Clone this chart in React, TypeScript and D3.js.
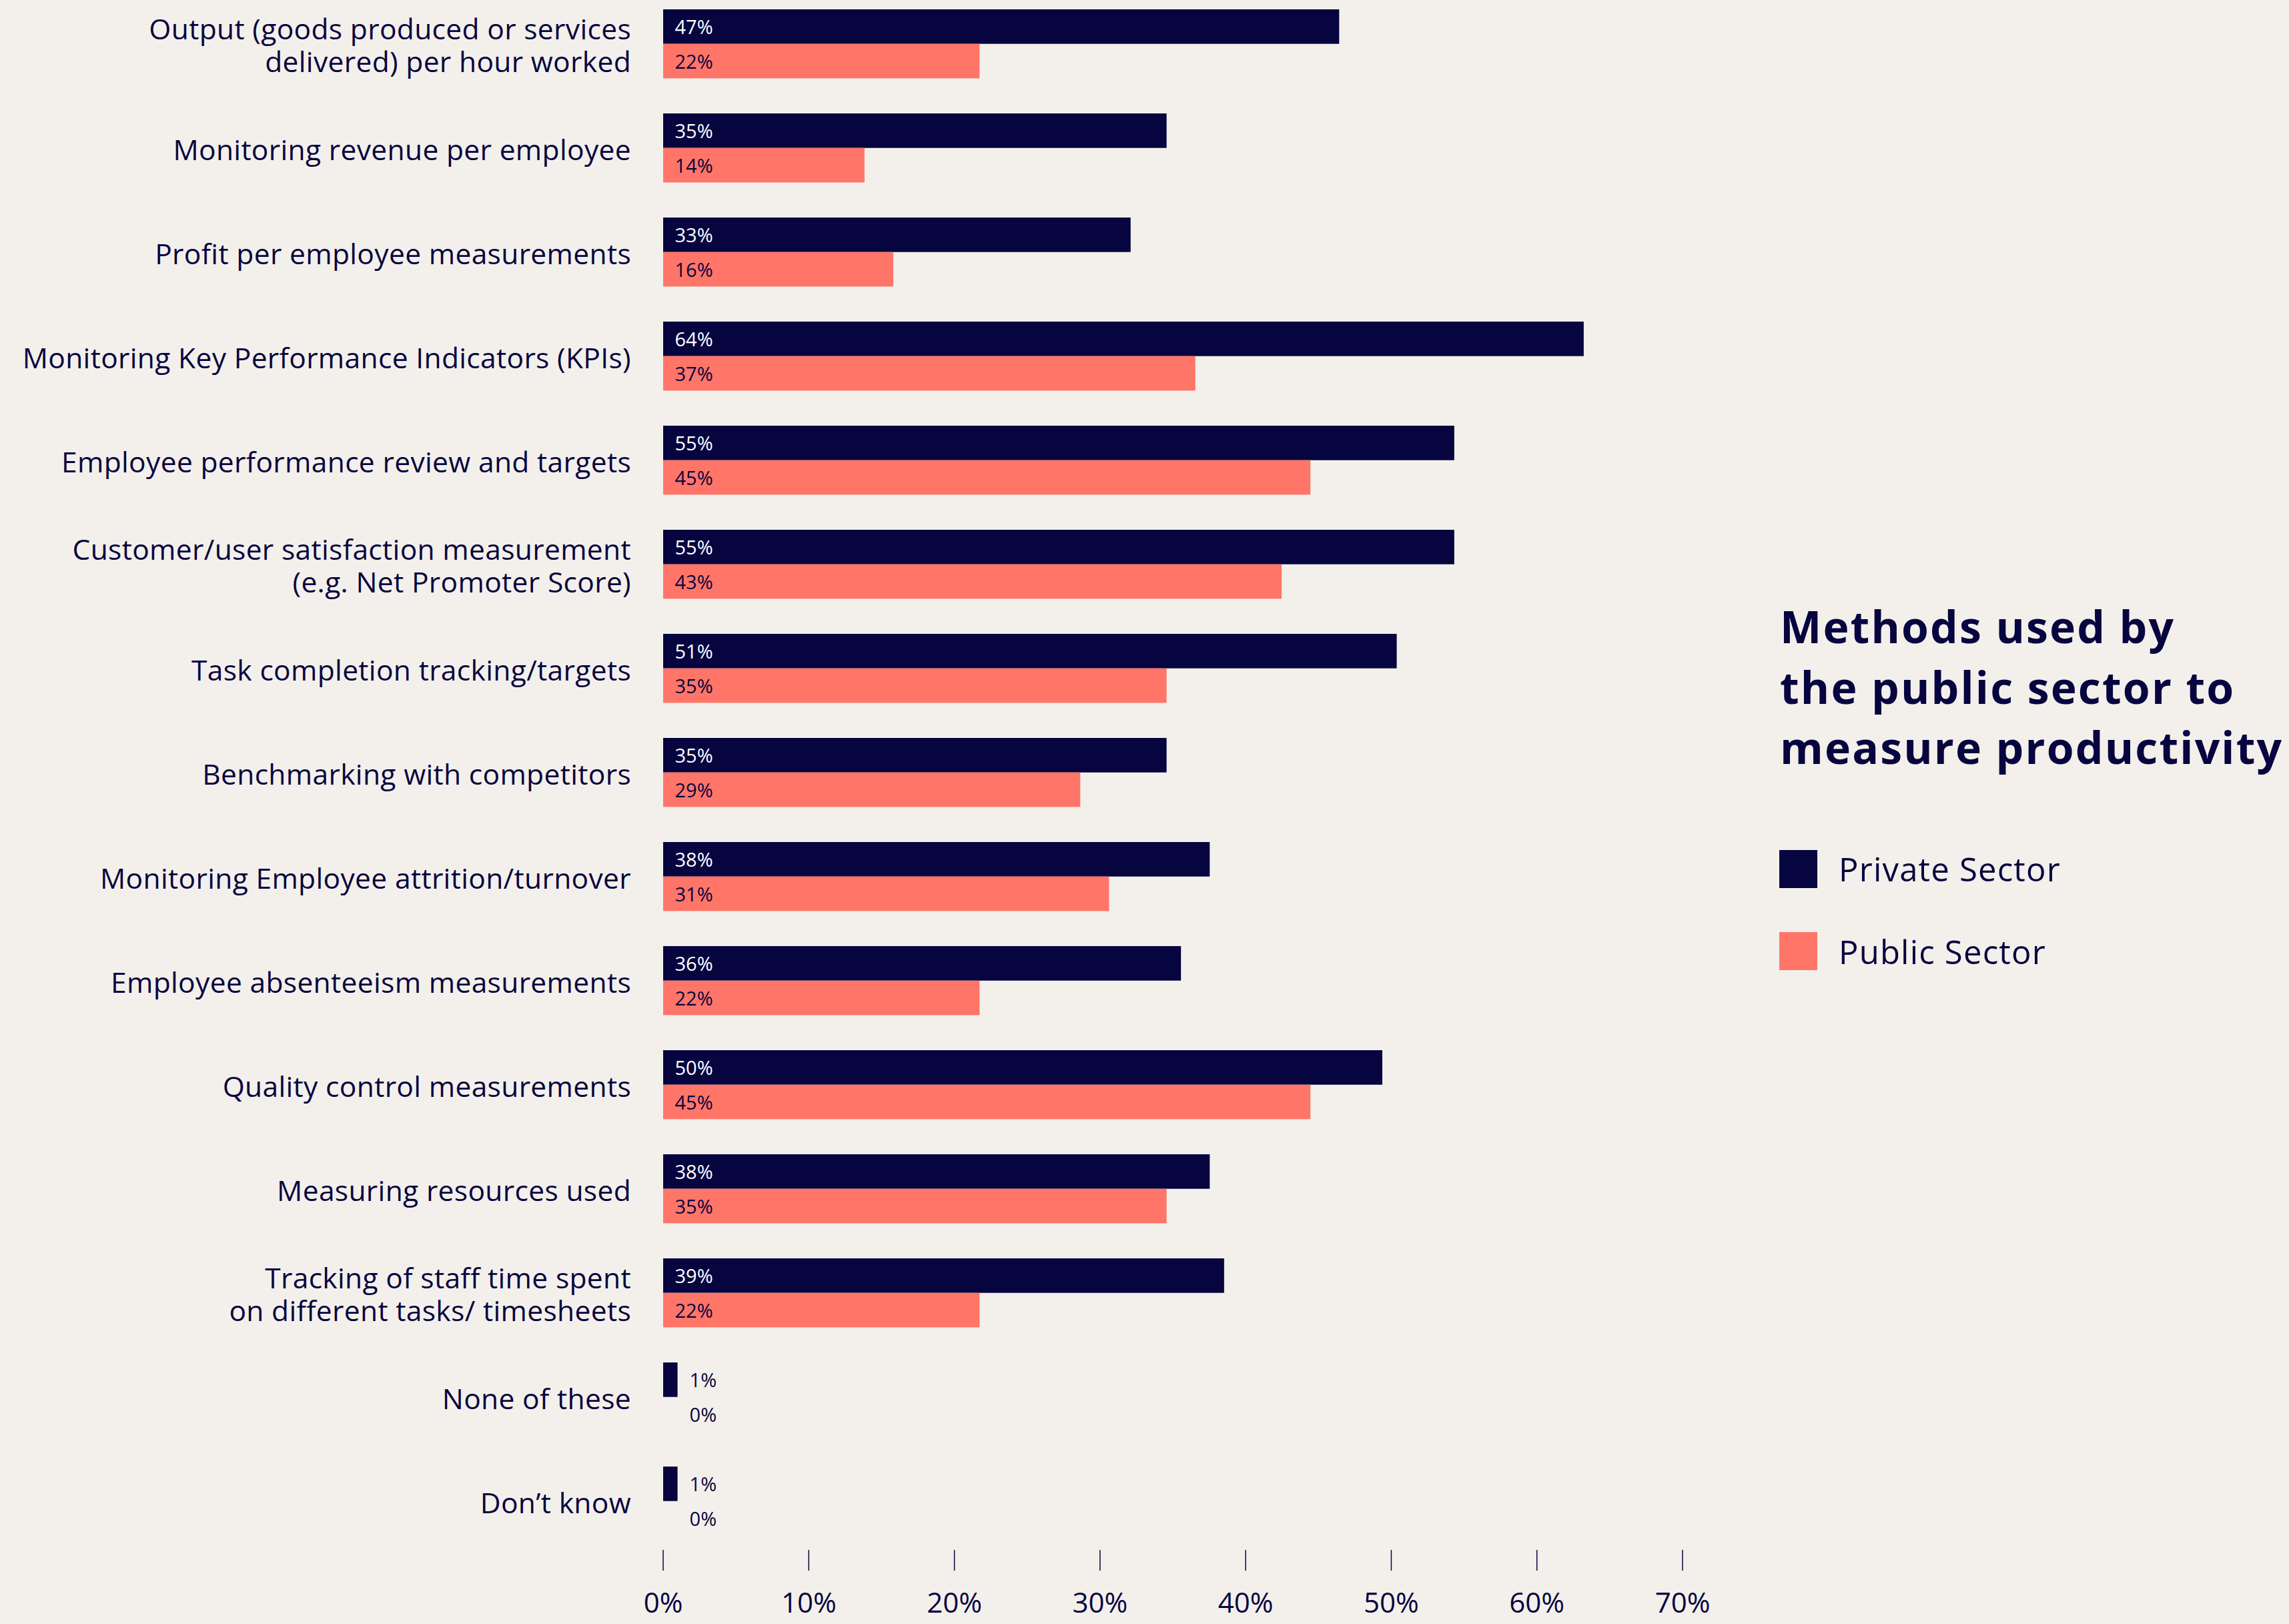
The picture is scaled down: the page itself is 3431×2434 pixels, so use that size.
import React from "react";
import * as d3 from "d3";

const categories = [
  "Output (goods produced or services\ndelivered) per hour worked",
  "Monitoring revenue per employee",
  "Profit per employee measurements",
  "Monitoring Key Performance Indicators (KPIs)",
  "Employee performance review and targets",
  "Customer/user satisfaction measurement\n(e.g. Net Promoter Score)",
  "Task completion tracking/targets",
  "Benchmarking with competitors",
  "Monitoring Employee attrition/turnover",
  "Employee absenteeism measurements",
  "Quality control measurements",
  "Measuring resources used",
  "Tracking of staff time spent\non different tasks/ timesheets",
  "None of these",
  "Don\u2019t know",
];

const privateValues = [47, 35, 32.5, 64, 55, 55, 51, 35, 38, 36, 50, 38, 39, 1, 1];
const publicValues = [22, 14, 16, 37, 45, 43, 35, 29, 31, 22, 45, 35, 22, 0, 0];

const seriesNames = ["Private Sector", "Public Sector"];
const tickValues = [0, 10, 20, 30, 40, 50, 60, 70];
const titleLines = ["Methods used by", "the public sector to", "measure productivity"];

const W = 3431;
const H = 2434;
const NAVY = "#07053F";
const CORAL = "#FF7568";
const BG = "#F3F0EB";
const FONT = "'Open Sans', 'Noto Sans', sans-serif";

export default function App() {
  const n = categories.length;
  const step = 156;
  const innerPad = 0.337;
  const y = d3
    .scaleBand<string>()
    .domain(categories)
    .range([14, 14 + step * (n - innerPad)])
    .paddingInner(innerPad)
    .paddingOuter(0);
  const sub = d3.scaleBand<string>().domain(seriesNames).range([0, y.bandwidth()]);

  const xBar = d3.scaleLinear().domain([0, 70]).range([994, 994 + 70 * 21.56]);
  const xAxis = d3.scaleLinear().domain([0, 70]).range([994, 2522]);

  const colors = [NAVY, CORAL];
  const labelColors = ["#FFFFFF", NAVY];
  const catFont = 42.5;
  const catSpacing = 0.35;

  return (
    <div style={{ position: "absolute", left: 0, top: 0 }}>
      <svg width={W} height={H} style={{ display: "block" }}>
        <rect x={0} y={0} width={W} height={H} fill={BG} />
        {categories.map((cat, i) => {
          const top = y(cat)!;
          const center = top + y.bandwidth() / 2;
          const lines = cat.split("\n");
          const vals = [privateValues[i], publicValues[i]];
          const groupMax = Math.max(...vals);
          return (
            <g key={cat}>
              {lines.length === 1 ? (
                <text
                  x={946}
                  y={center + 18}
                  textAnchor="end"
                  fontFamily={FONT}
                  fontSize={catFont}
                  letterSpacing={catSpacing}
                  fill={NAVY}
                >
                  {lines[0]}
                </text>
              ) : (
                lines.map((ln, j) => (
                  <text
                    key={j}
                    x={946}
                    y={center - 7 + j * 49}
                    textAnchor="end"
                    fontFamily={FONT}
                    fontSize={catFont}
                    letterSpacing={catSpacing}
                    fill={NAVY}
                  >
                    {ln}
                  </text>
                ))
              )}
              {vals.map((v, k) => {
                const by = top + sub(seriesNames[k])!;
                const bh = sub.bandwidth();
                const outside = groupMax < 5;
                const lx = outside ? xBar(groupMax) + 18 : xBar(0) + 17.5;
                return (
                  <g key={k}>
                    {v > 0 && (
                      <rect
                        x={xBar(0)}
                        y={by}
                        width={xBar(v) - xBar(0)}
                        height={bh}
                        fill={colors[k]}
                      />
                    )}
                    <text
                      x={lx}
                      y={by + bh / 2 + 11}
                      fontFamily={FONT}
                      fontSize={29}
                      fill={outside ? NAVY : labelColors[k]}
                    >
                      {Math.round(v) + "%"}
                    </text>
                  </g>
                );
              })}
            </g>
          );
        })}
        {tickValues.map((t) => (
          <g key={t}>
            <line
              x1={xAxis(t)}
              x2={xAxis(t)}
              y1={2323}
              y2={2354}
              stroke={NAVY}
              strokeWidth={1.5}
            />
            <text
              x={xAxis(t)}
              y={2417}
              textAnchor="middle"
              fontFamily={FONT}
              fontSize={42}
              fill={NAVY}
            >
              {t + "%"}
            </text>
          </g>
        ))}
        {titleLines.map((ln, i) => (
          <text
            key={ln}
            x={2668}
            y={964 + i * 90.5}
            fontFamily={FONT}
            fontWeight={700}
            fontSize={66}
            letterSpacing={2.2}
            fill={NAVY}
          >
            {ln}
          </text>
        ))}
        {seriesNames.map((s, i) => (
          <g key={s}>
            <rect x={2667} y={1274 + i * 123} width={57} height={57} fill={colors[i]} />
            <text
              x={2756}
              y={1321 + i * 124}
              fontFamily={FONT}
              fontSize={49}
              letterSpacing={1.2}
              fill={NAVY}
            >
              {s}
            </text>
          </g>
        ))}
      </svg>
    </div>
  );
}
